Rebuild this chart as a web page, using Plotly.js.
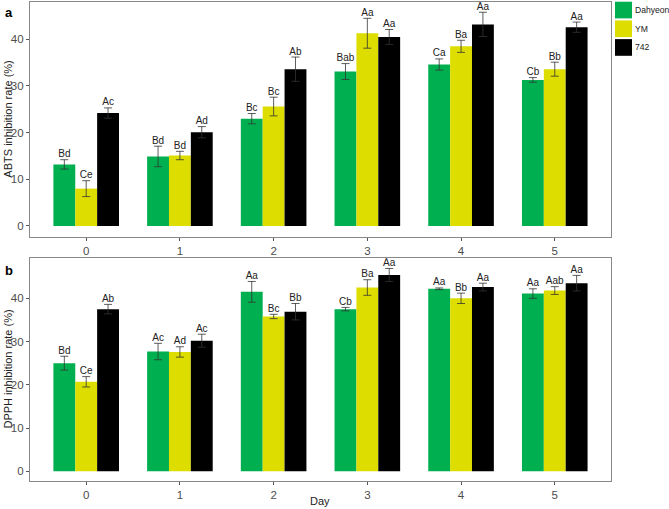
<!DOCTYPE html>
<html>
<head>
<meta charset="utf-8">
<script src="https://cdn.plot.ly/plotly-3.0.1.min.js"></script>
<style>
  html, body { margin: 0; padding: 0; background: #fff; }
  #chart { width: 669px; height: 509px; }
</style>
</head>
<body>
<div id="chart"></div>
<script>
var days = [0, 1, 2, 3, 4, 5];
var cultivars = ['Dahyeon', 'YM', '742'];
var colors = ['#00b050', '#dddd00', '#000000'];

// ABTS (panel a)
var abtsDahyeon = [13.2, 14.9, 23.0, 33.1, 34.6, 31.3];
var abtsYM = [8.0, 15.1, 25.6, 41.3, 38.5, 33.6];
var abts742 = [24.2, 20.1, 33.6, 40.5, 43.2, 42.6];
var abtsErrDahyeon = [1.0, 2.2, 1.1, 1.7, 1.2, 0.5];
var abtsErrYM = [1.7, 0.9, 2.0, 3.2, 1.3, 1.5];
var abtsErr742 = [1.1, 1.2, 2.6, 1.6, 2.6, 1.1];
var abtsLetDahyeon = ['Bd', 'Bd', 'Bc', 'Bab', 'Ca', 'Cb'];
var abtsLetYM = ['Ce', 'Bd', 'Bc', 'Aa', 'Ba', 'Bb'];
var abtsLet742 = ['Ac', 'Ad', 'Ab', 'Aa', 'Aa', 'Aa'];

// DPPH (panel b)
var dpphDahyeon = [25.0, 27.7, 41.5, 37.5, 42.2, 41.1];
var dpphYM = [20.7, 27.6, 35.8, 42.5, 40.0, 41.8];
var dpph742 = [37.5, 30.2, 36.9, 45.4, 42.6, 43.5];
var dpphErrDahyeon = [1.6, 1.9, 2.4, 0.4, 0.2, 1.1];
var dpphErrYM = [1.2, 1.2, 0.5, 1.8, 1.2, 0.9];
var dpphErr742 = [1.1, 1.5, 1.9, 1.5, 0.9, 1.8];
var dpphLetDahyeon = ['Bd', 'Ac', 'Aa', 'Cb', 'Aa', 'Aa'];
var dpphLetYM = ['Ce', 'Ad', 'Bc', 'Ba', 'Bb', 'Aab'];
var dpphLet742 = ['Ab', 'Ac', 'Bb', 'Aa', 'Aa', 'Aa'];

var W = 669, H = 509;
var barW = 0.7 / 3;
var centers = [-barW, 0, barW];

function makePanel(vals, errs, lets, xa, ya) {
	var traces = [];
	for (var i = 0; i < 3; i++) {
		traces.push({
			type : 'bar',
			x : days,
			y : vals[i],
			width : barW,
			offset : centers[i] - barW / 2,
			name : cultivars[i],
			marker : { color : colors[i], line : { width : 0 } },
			error_y : { type : 'data', array : errs[i], color : '#333333', thickness : 0.8, width : 4 },
			xaxis : xa,
			yaxis : ya,
			showlegend : false,
			hoverinfo : 'skip'
		});
	}
	for (var j = 0; j < 3; j++) {
		traces.push({
			type : 'scatter',
			mode : 'text',
			x : days.map(function (d) { return d + centers[j]; }),
			y : vals[j].map(function (v, k) { return v + errs[j][k]; }),
			text : lets[j],
			textposition : 'top center',
			textfont : { family : 'Liberation Sans, Arial, sans-serif', size : 10, color : '#222' },
			xaxis : xa,
			yaxis : ya,
			showlegend : false,
			hoverinfo : 'skip'
		});
	}
	return traces;
}

var data = makePanel([abtsDahyeon, abtsYM, abts742], [abtsErrDahyeon, abtsErrYM, abtsErr742],
		[abtsLetDahyeon, abtsLetYM, abtsLet742], 'x', 'y')
	.concat(makePanel([dpphDahyeon, dpphYM, dpph742], [dpphErrDahyeon, dpphErrYM, dpphErr742],
		[dpphLetDahyeon, dpphLetYM, dpphLet742], 'x2', 'y2'));

var xStyle = {
	range : [-0.6, 5.6],
	tickvals : days,
	ticks : 'outside',
	ticklen : 3,
	tickcolor : '#555',
	showline : true,
	mirror : true,
	linecolor : '#888',
	linewidth : 1,
	showgrid : false,
	zeroline : false,
	tickfont : { size : 11.5, color : '#4d4d4d' }
};
var yStyle = {
	tickvals : [0, 10, 20, 30, 40],
	ticks : 'outside',
	ticklen : 3,
	tickcolor : '#555',
	showline : true,
	mirror : true,
	linecolor : '#888',
	linewidth : 1,
	showgrid : false,
	zeroline : false,
	tickfont : { size : 11.5, color : '#4d4d4d' }
};

// legend keys drawn by hand (pixel positions converted to paper)
var shapes = [];
var annotations = [
	{ text : '<b>a</b>', x : 0.004, y : 0.995, xref : 'paper', yref : 'paper', xanchor : 'left', yanchor : 'top', showarrow : false, font : { size : 13, color : '#000' } },
	{ text : '<b>b</b>', x : 0.004, y : 0.487, xref : 'paper', yref : 'paper', xanchor : 'left', yanchor : 'top', showarrow : false, font : { size : 13, color : '#000' } },
	{ text : 'ABTS inhibition rate (%)', textangle : -90, x : 0.012, y : 0.765, xref : 'paper', yref : 'paper', xanchor : 'center', yanchor : 'middle', showarrow : false, font : { size : 11, color : '#222' } },
	{ text : 'DPPH inhibition rate (%)', textangle : -90, x : 0.012, y : 0.274, xref : 'paper', yref : 'paper', xanchor : 'center', yanchor : 'middle', showarrow : false, font : { size : 11, color : '#222' } },
	{ text : 'Day', x : 0.479, y : 0.0, xref : 'paper', yref : 'paper', xanchor : 'center', yanchor : 'bottom', showarrow : false, font : { size : 11, color : '#222' } }
];
cultivars.forEach(function (name, i) {
	var top = 1.7 + i * 18.7;
	shapes.push({
		type : 'rect', xref : 'paper', yref : 'paper',
		x0 : 615 / W, x1 : 632 / W, y0 : 1 - (top + 16.7) / H, y1 : 1 - top / H,
		fillcolor : colors[i], line : { width : 0 }
	});
	annotations.push({
		text : name, xref : 'paper', yref : 'paper',
		x : 634 / W, y : 1 - (top + 8.3) / H, xanchor : 'left', yanchor : 'middle',
		showarrow : false, borderpad : 0, font : { size : 8.6, color : '#222' }
	});
});

var layout = {
	width : W,
	height : H,
	margin : { l : 0, r : 0, t : 0, b : 0 },
	paper_bgcolor : '#fff',
	plot_bgcolor : '#fff',
	font : { family : 'Liberation Sans, Arial, sans-serif', color : '#222' },
	barmode : 'overlay',
	showlegend : false,
	xaxis : Object.assign({}, xStyle, { domain : [0.0448, 0.9133], anchor : 'y' }),
	yaxis : Object.assign({}, yStyle, { domain : [0.5344, 0.9961], range : [-2.36, 48.0], anchor : 'x' }),
	xaxis2 : Object.assign({}, xStyle, { domain : [0.0448, 0.9133], anchor : 'y2' }),
	yaxis2 : Object.assign({}, yStyle, { domain : [0.055, 0.4925], range : [-2.24, 49.25], anchor : 'x2' }),
	shapes : shapes,
	annotations : annotations
};

Plotly.newPlot('chart', data, layout, { displayModeBar : false, staticPlot : true });
</script>
</body>
</html>
